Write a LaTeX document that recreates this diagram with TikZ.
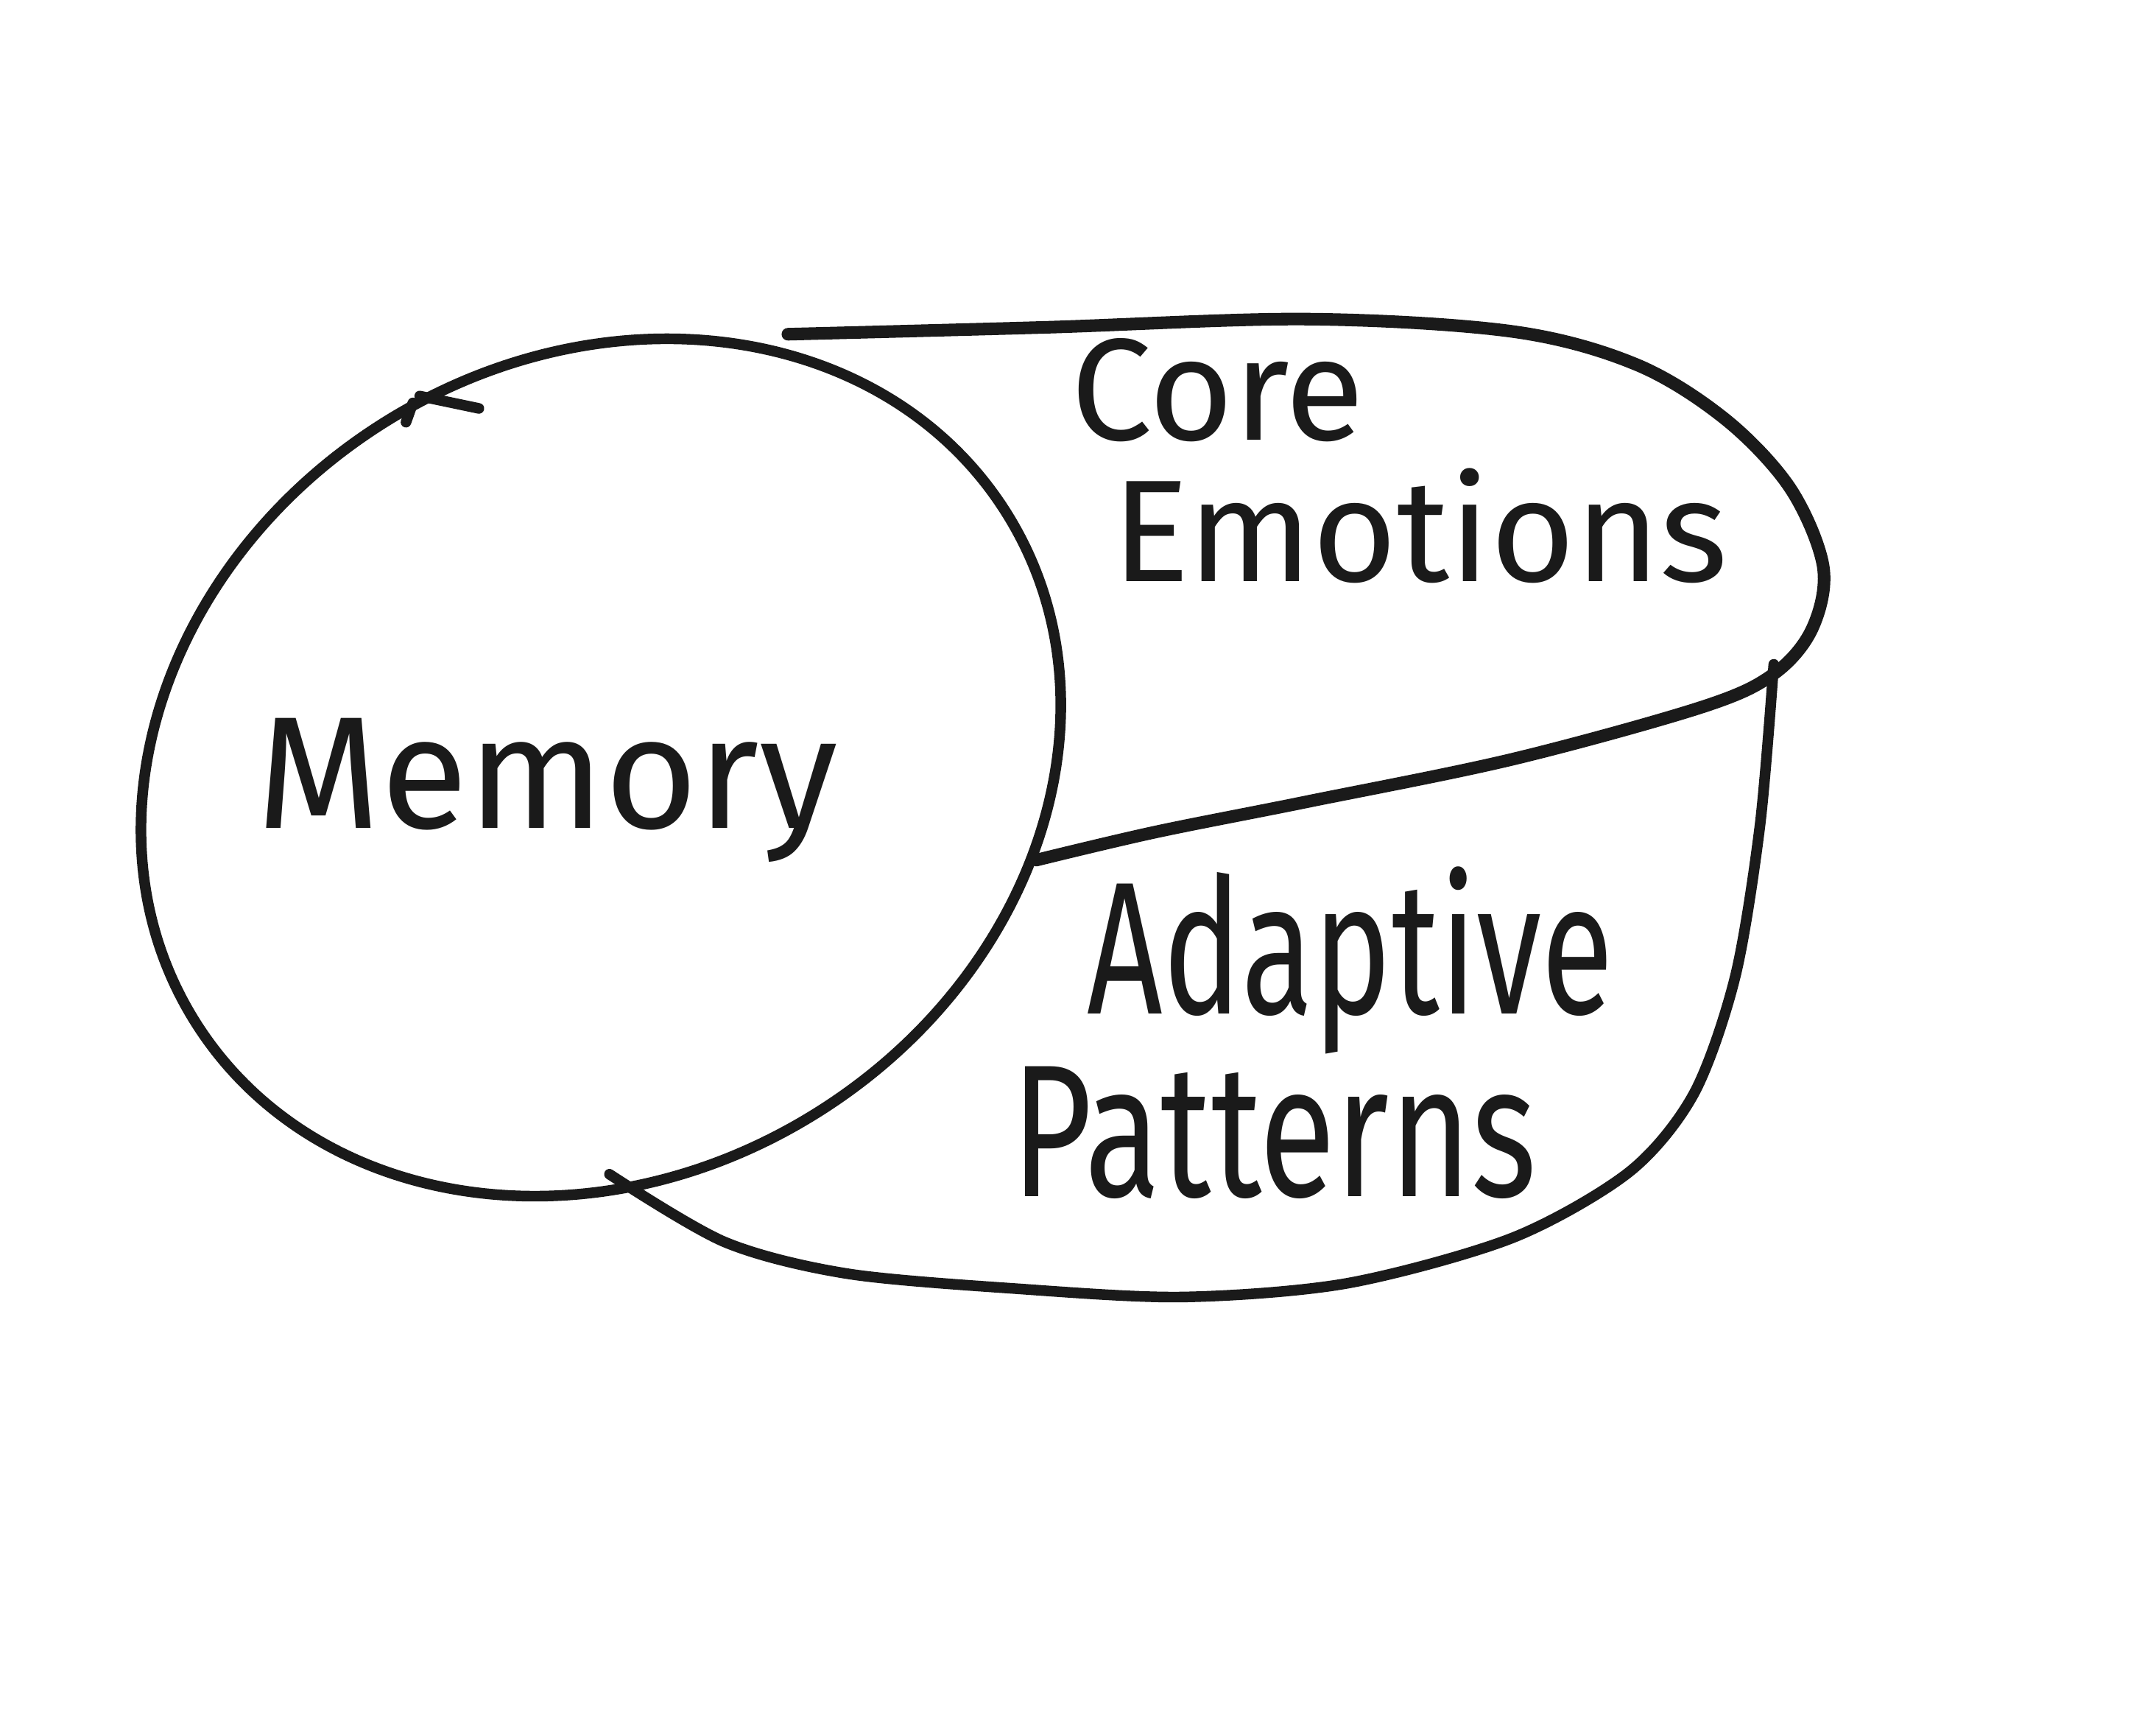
\documentclass[tikz,border=0pt]{standalone}
\usepackage{fontspec}
\usepackage{tikz}
\usepackage{graphicx}
\usepackage{xcolor}
\usetikzlibrary{shapes.geometric,calc}
\setsansfont{Fira Sans}
\definecolor{paper}{HTML}{FFFFFF}
\definecolor{ink}{HTML}{1A1A1A}
\tikzset{
  outline/.style={
    draw=ink, line width=2.2pt, line cap=round, line join=round
  },
  memoryring/.style={
    outline, ellipse, inner sep=0pt,
    minimum width=6.96cm, minimum height=5.92cm
  },
  handlabel/.style={
    text=ink, inner sep=0pt, anchor=base west
  }
}

\begin{document}
\begin{tikzpicture}[x=0.01cm,y=-0.01cm]
      \fill[paper] (0,0) rectangle (1568,1254);
      \useasboundingbox (0,0) rectangle (1568,1254);
      % memory circle
      \node[memoryring,rotate=32] (memcirc) at (437,558) {};
      \coordinate (tick) at (memcirc.84);
      \draw[outline] (tick) -- ++(43,9);
      \draw[outline] (tick) ++(-5,5) -- ++(-5,14);
      % core emotions part
      \coordinate (emtop) at (573,243);
      \coordinate (rightjoin) at (1290,490);
      \draw[outline,line width=2.6pt] plot[smooth,tension=0.55] coordinates {
        (emtop) (760,238) (950,232) (1100,241) (1190,265) (1255,305)
        (1302,355) (1326,412) (1318,457) (rightjoin) (1238,514)
        (1100,552) (950,583) (840,605) (memcirc.-44)};
      % adaptive patterns part
      \coordinate (lowstart) at ($(memcirc.-119)+(-10,-14)$);
      \draw[outline] plot[smooth,tension=0.5] coordinates {
        (1290,483) (1280,600) (1262,710) (1232,795) (1185,852)
        (1100,900) (980,933) (860,943) (740,937) (616,926)
        (527,903) (lowstart)};
      \node[handlabel,font=\sffamily\fontsize{33}{38}\selectfont] (memory) at (186,602) {Memory};
      \node[handlabel,font=\sffamily\fontsize{30}{36}\selectfont] (core) at (778,320) {Core};
      \node[handlabel,font=\sffamily\fontsize{30}{36}\selectfont] (emotions) at (808,423) {Emotions};
      \node[handlabel,font=\sffamily\fontsize{39}{44}\selectfont] (adaptive) at (790,737) {\scalebox{0.7}[1]{Adaptive}};
      \node[handlabel,font=\sffamily\fontsize{39}{44}\selectfont] (patterns) at (735,870) {\scalebox{0.74}[1]{Patterns}};
    \end{tikzpicture}
\end{document}
